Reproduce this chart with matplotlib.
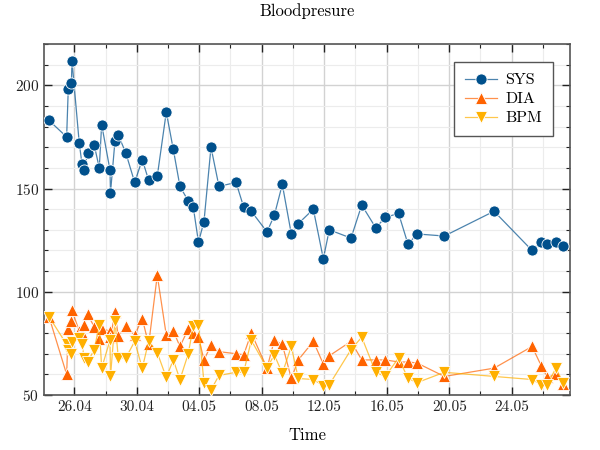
import matplotlib
matplotlib.use("Agg")
import matplotlib.pyplot as plt
import matplotlib.dates as mdates
from matplotlib.ticker import MultipleLocator, FixedLocator
import pandas as pd

plt.rcParams['font.family'] = ['cmr10', 'DejaVu Serif']
plt.rcParams['mathtext.fontset'] = 'cm'
plt.rcParams['axes.formatter.use_mathtext'] = True

times = [
    "2023-04-24 09:07", "2023-04-25 12:18", "2023-04-25 14:47", "2023-04-25 19:40",
    "2023-04-25 20:28", "2023-04-26 07:41", "2023-04-26 11:50", "2023-04-26 15:22",
    "2023-04-26 20:35", "2023-04-27 06:43", "2023-04-27 14:25", "2023-04-27 18:06",
    "2023-04-28 06:52", "2023-04-28 07:40", "2023-04-28 14:33", "2023-04-28 19:36",
    "2023-04-29 07:26", "2023-04-29 20:48", "2023-04-30 08:28", "2023-04-30 18:18",
    "2023-05-01 07:32", "2023-05-01 21:21", "2023-05-02 08:07", "2023-05-02 18:24",
    "2023-05-03 07:09", "2023-05-03 14:50", "2023-05-03 22:50", "2023-05-04 07:16",
    "2023-05-04 18:02", "2023-05-05 06:20", "2023-05-06 08:27", "2023-05-06 20:17",
    "2023-05-07 07:58", "2023-05-08 08:05", "2023-05-08 19:18", "2023-05-09 07:35",
    "2023-05-09 21:25", "2023-05-10 08:10", "2023-05-11 07:13", "2023-05-11 22:35",
    "2023-05-12 07:48", "2023-05-13 17:08", "2023-05-14 09:35", "2023-05-15 07:06",
    "2023-05-15 21:50", "2023-05-16 18:07", "2023-05-17 08:43", "2023-05-17 22:33",
    "2023-05-19 16:29", "2023-05-22 20:51", "2023-05-25 07:15", "2023-05-25 21:33",
    "2023-05-26 06:46", "2023-05-26 19:41", "2023-05-27 06:53",
]

sys_vals = [183, 175, 198, 201, 212, 172, 162, 159, 167, 171, 160, 181,
            159, 148, 173, 176, 167, 153, 164, 154, 156, 187, 169, 151,
            144, 141, 124, 134, 170, 151, 153, 141, 139, 129, 137, 152,
            128, 133, 140, 116, 130, 126, 142, 131, 136, 138, 123, 128,
            127, 139, 120, 124, 123, 124, 122]

dia_vals = [88, 60, 82, 86, 91, 81, 80, 84, 89, 83, 77, 82,
            81, 78, 90, 78.5, 83.5, 79, 87, 74.5, 108, 79, 81, 73.5,
            82, 80, 78, 67, 74, 71, 70, 69.5, 80, 63, 76.5, 74.5,
            58, 67, 76, 65, 69, 76, 67, 67, 67, 66, 66, 65.5,
            59, 63, 73.5, 64, 58.5, 60, 55.5]

bpm_vals = [88, 74.5, 72, 70, 75.5, 77.5, 74.5, 68, 66, 72, 84, 63,
            76.5, 59, 86, 68, 68, 76, 63, 76, 70.5, 58.5, 67, 57.5,
            70, 83.5, 84, 56, 52.5, 59.5, 61, 61, 76.5, 63, 69.5, 60.5,
            73.5, 58, 57.5, 54.5, 55, 72, 78, 61, 59, 68, 58, 56,
            61, 59, 57.5, 55, 55, 63, 56]

x_limits = ("2023-04-24 01:30", "2023-05-27 17:30")
y_limits = (50, 220)
major_ticks = pd.date_range("2023-04-26", periods=8, freq="4D")
minor_ticks = pd.date_range("2023-04-24", periods=18, freq="2D")

t = pd.to_datetime(times)

fig = plt.figure(figsize=(6, 4.5), dpi=100)
ax = fig.add_axes([0.0733, 0.1222, 0.8767, 0.78])

series = [
    ("SYS", sys_vals, "#00508c", "o"),
    ("DIA", dia_vals, "#ff6300", "^"),
    ("BPM", bpm_vals, "#ffb000", "v"),
]
for name, vals, col, mk in series:
    rgba = matplotlib.colors.to_rgba(col, 0.7)
    ax.plot(t, vals, color=rgba, lw=0.9, marker=mk, markersize=8,
            markerfacecolor=col, markeredgecolor="white", markeredgewidth=0.6,
            label=name, zorder=3)

ax.set_xlim(pd.to_datetime(x_limits[0]), pd.to_datetime(x_limits[1]))
ax.set_ylim(*y_limits)

ax.xaxis.set_major_locator(FixedLocator(mdates.date2num(major_ticks)))
ax.xaxis.set_minor_locator(FixedLocator(mdates.date2num(minor_ticks)))
ax.xaxis.set_major_formatter(mdates.DateFormatter("%d.%m"))
ax.yaxis.set_major_locator(MultipleLocator(50))
ax.yaxis.set_minor_locator(MultipleLocator(10))

ax.grid(True, which="major", color="#d2d2d2", lw=1.0, zorder=0)
ax.grid(True, which="minor", color="#ececec", lw=0.8, zorder=0)
ax.set_axisbelow(True)

ax.tick_params(which="both", direction="in", top=True, right=True,
               labelsize=11, colors="#222222")
ax.tick_params(which="major", length=6, width=1.0)
ax.tick_params(which="minor", length=3, width=0.8)
for s in ax.spines.values():
    s.set_color("#555555")
    s.set_linewidth(1.2)

ax.set_title("Bloodpresure", fontsize=12, pad=20)
ax.set_xlabel("Time", fontsize=12, labelpad=10)

leg = ax.legend(loc="upper right", bbox_to_anchor=(0.968, 0.949), fontsize=11.5,
                fancybox=False, framealpha=1, edgecolor="#555555",
                handlelength=2.0, handletextpad=0.5, borderpad=0.7,
                labelspacing=0.3, borderaxespad=0)
leg.get_frame().set_linewidth(1.0)

fig.savefig("out.png", dpi=100)
